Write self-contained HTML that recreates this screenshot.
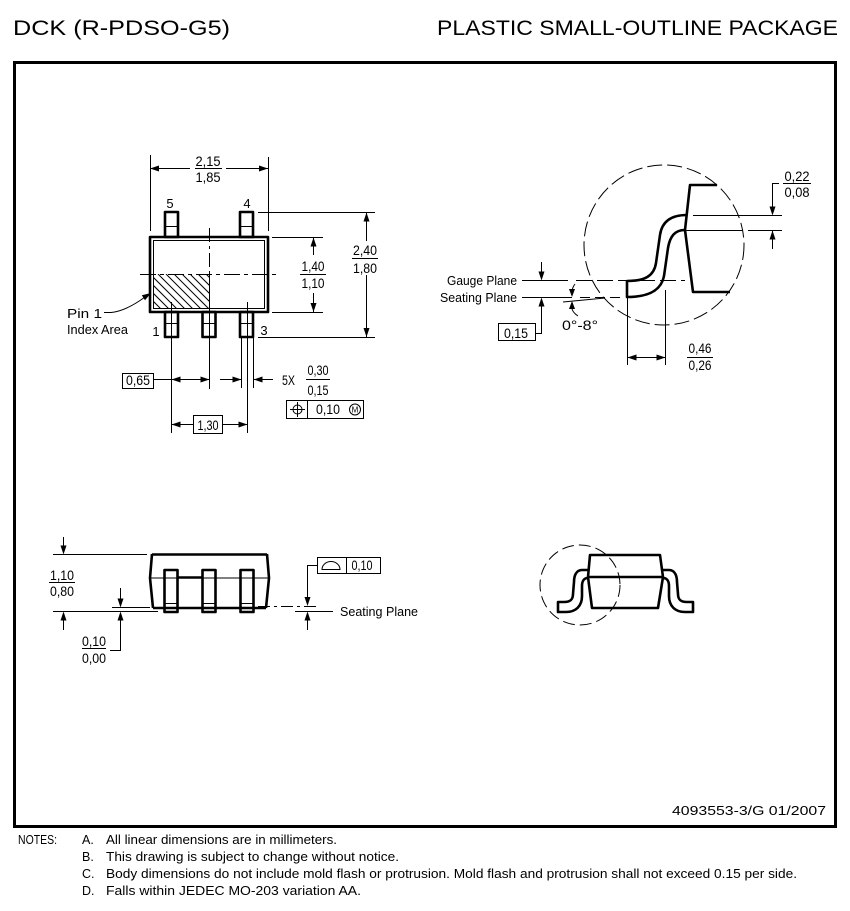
<!DOCTYPE html>
<html><head><meta charset="utf-8"><style>
html,body{margin:0;padding:0;background:#fff;}
svg{display:block;}
text{font-family:"Liberation Sans",sans-serif;fill:#000;}
.n{font-size:14px;}
.l{font-size:13px;}
.th{stroke:#000;stroke-width:1;fill:none;}
.tk{stroke:#000;stroke-width:2.6;fill:none;stroke-linejoin:round;}
.ah{fill:#000;stroke:none;}
</style></head><body>
<svg width="850" height="911" viewBox="0 0 850 911" xmlns="http://www.w3.org/2000/svg">
<defs>
<clipPath id="hc"><rect x="153" y="274" width="56" height="35"/></clipPath>
</defs>
<!-- Header -->
<text x="13" y="35" font-size="21" textLength="217" lengthAdjust="spacingAndGlyphs">DCK (R-PDSO-G5)</text>
<text x="437" y="35" font-size="21" textLength="401" lengthAdjust="spacingAndGlyphs">PLASTIC SMALL-OUTLINE PACKAGE</text>
<!-- Frame -->
<rect x="14.5" y="62.5" width="821" height="764" fill="none" stroke="#000" stroke-width="3"/>

<!-- ===== TOP VIEW ===== -->
<g clip-path="url(#hc)" stroke="#000" stroke-width="1">
<line x1="110" y1="274" x2="145" y2="309"/><line x1="118" y1="274" x2="153" y2="309"/>
<line x1="126" y1="274" x2="161" y2="309"/><line x1="134" y1="274" x2="169" y2="309"/>
<line x1="142" y1="274" x2="177" y2="309"/><line x1="150" y1="274" x2="185" y2="309"/>
<line x1="158" y1="274" x2="193" y2="309"/><line x1="166" y1="274" x2="201" y2="309"/>
<line x1="174" y1="274" x2="209" y2="309"/><line x1="182" y1="274" x2="217" y2="309"/>
<line x1="190" y1="274" x2="225" y2="309"/><line x1="198" y1="274" x2="233" y2="309"/>
<line x1="206" y1="274" x2="241" y2="309"/>
</g>
<rect x="150" y="237" width="118" height="75" class="tk" stroke-width="3"/>
<rect x="153.5" y="240.5" width="111" height="68" class="th"/>
<line x1="209.5" y1="228" x2="209.5" y2="312" class="th" stroke-dasharray="14 4 3 4"/>
<line x1="140" y1="274.5" x2="277" y2="274.5" class="th" stroke-dasharray="16 4 4 4"/>
<line x1="209.5" y1="274" x2="209.5" y2="309" class="th"/>
<rect x="165" y="212" width="13" height="25" class="tk" fill="#fff"/>
<line x1="165" y1="226.5" x2="178" y2="226.5" class="th" stroke-width="1.5"/>
<rect x="240" y="212" width="13" height="25" class="tk" fill="#fff"/>
<line x1="240" y1="226.5" x2="253" y2="226.5" class="th" stroke-width="1.5"/>
<rect x="165" y="312" width="13" height="25" class="tk" fill="#fff"/>
<rect x="202.5" y="312" width="13" height="25" class="tk" fill="#fff"/>
<rect x="240" y="312" width="13" height="25" class="tk" fill="#fff"/>
<line x1="165" y1="323.5" x2="178" y2="323.5" class="th" stroke-width="1.5"/>
<line x1="202.5" y1="323.5" x2="215.5" y2="323.5" class="th" stroke-width="1.5"/>
<line x1="240" y1="323.5" x2="253" y2="323.5" class="th" stroke-width="1.5"/>
<line x1="171.5" y1="302" x2="171.5" y2="433" class="th"/>
<line x1="209.5" y1="312" x2="209.5" y2="389" class="th"/>
<line x1="241.5" y1="337" x2="241.5" y2="388" class="th"/>
<line x1="247.5" y1="302" x2="247.5" y2="433" class="th"/>
<line x1="253.5" y1="337" x2="253.5" y2="388" class="th"/>
<text x="170" y="208" class="l" text-anchor="middle">5</text>
<text x="247" y="208" class="l" text-anchor="middle">4</text>
<text x="156" y="336" class="l" text-anchor="middle">1</text>
<text x="264" y="335" class="l" text-anchor="middle">3</text>
<!-- 2,15 dim -->
<line x1="150.5" y1="155" x2="150.5" y2="231" class="th"/>
<line x1="268.5" y1="157" x2="268.5" y2="231" class="th"/>
<line x1="150" y1="168.5" x2="190" y2="168.5" class="th"/>
<line x1="226" y1="168.5" x2="268" y2="168.5" class="th"/>
<polygon class="ah" points="150,168.5 159,165.5 159,171.5"/>
<polygon class="ah" points="268,168.5 259,165.5 259,171.5"/>
<text x="208" y="166" class="n" text-anchor="middle" textLength="25" lengthAdjust="spacingAndGlyphs">2,15</text>
<line x1="195" y1="168.5" x2="222" y2="168.5" class="th"/>
<text x="208" y="182" class="n" text-anchor="middle" textLength="25" lengthAdjust="spacingAndGlyphs">1,85</text>
<!-- 1,40 dim -->
<line x1="272" y1="237.5" x2="323" y2="237.5" class="th"/>
<line x1="272" y1="312.5" x2="323" y2="312.5" class="th"/>
<line x1="313.5" y1="237" x2="313.5" y2="255" class="th"/>
<line x1="313.5" y1="293" x2="313.5" y2="312" class="th"/>
<polygon class="ah" points="313.5,237.5 310.5,246.5 316.5,246.5"/>
<polygon class="ah" points="313.5,312 310.5,303 316.5,303"/>
<text x="313" y="271" class="n" text-anchor="middle" textLength="23" lengthAdjust="spacingAndGlyphs">1,40</text>
<line x1="300" y1="274.5" x2="326" y2="274.5" class="th"/>
<text x="313" y="288" class="n" text-anchor="middle" textLength="23" lengthAdjust="spacingAndGlyphs">1,10</text>
<!-- 2,40 dim -->
<line x1="258" y1="212.5" x2="375" y2="212.5" class="th"/>
<line x1="258" y1="337.5" x2="375" y2="337.5" class="th"/>
<line x1="366.5" y1="212" x2="366.5" y2="241" class="th"/>
<line x1="366.5" y1="275" x2="366.5" y2="337" class="th"/>
<polygon class="ah" points="366.5,212.5 363.5,221.5 369.5,221.5"/>
<polygon class="ah" points="366.5,337 363.5,328 369.5,328"/>
<text x="365" y="255" class="n" text-anchor="middle" textLength="24" lengthAdjust="spacingAndGlyphs">2,40</text>
<line x1="352" y1="258.5" x2="378" y2="258.5" class="th"/>
<text x="365" y="273" class="n" text-anchor="middle" textLength="24" lengthAdjust="spacingAndGlyphs">1,80</text>
<!-- Pin 1 index -->
<text x="67" y="318" class="l" textLength="35" lengthAdjust="spacingAndGlyphs">Pin 1</text>
<text x="67" y="334" class="l" textLength="61" lengthAdjust="spacingAndGlyphs">Index Area</text>
<path d="M104,312.5 L111,312.5 Q126,311 145,297" class="th"/>
<polygon class="ah" points="151,293 141.8,295.3 145,300.3"/>
<!-- 0,65 -->
<rect x="122.5" y="373.5" width="31" height="15" class="th"/>
<text x="138" y="385" class="n" text-anchor="middle" textLength="24" lengthAdjust="spacingAndGlyphs">0,65</text>
<line x1="153" y1="379.5" x2="209" y2="379.5" class="th"/>
<polygon class="ah" points="171.5,379.5 180.5,376.5 180.5,382.5"/>
<polygon class="ah" points="209.5,379.5 200.5,376.5 200.5,382.5"/>
<line x1="220" y1="379.5" x2="241" y2="379.5" class="th"/>
<polygon class="ah" points="241.5,379.5 232.5,376.5 232.5,382.5"/>
<line x1="253" y1="379.5" x2="273" y2="379.5" class="th"/>
<polygon class="ah" points="253.5,379.5 262.5,376.5 262.5,382.5"/>
<text x="282" y="385" class="n" textLength="13" lengthAdjust="spacingAndGlyphs">5X</text>
<text x="318" y="375" class="n" text-anchor="middle" textLength="21" lengthAdjust="spacingAndGlyphs">0,30</text>
<line x1="306" y1="379.5" x2="330" y2="379.5" class="th"/>
<text x="318" y="395" class="n" text-anchor="middle" textLength="21" lengthAdjust="spacingAndGlyphs">0,15</text>
<!-- position tolerance -->
<rect x="286.5" y="400.5" width="77" height="18" class="th"/>
<line x1="307.5" y1="400.5" x2="307.5" y2="418.5" class="th"/>
<circle cx="297.5" cy="409.5" r="4.5" class="th"/>
<line x1="290" y1="409.5" x2="305" y2="409.5" class="th"/>
<line x1="297.5" y1="402" x2="297.5" y2="417" class="th"/>
<text x="328" y="414" class="n" text-anchor="middle" textLength="24" lengthAdjust="spacingAndGlyphs">0,10</text>
<circle cx="355" cy="409.5" r="5.5" class="th"/>
<text x="355" y="412.5" font-size="8" text-anchor="middle">M</text>
<!-- 1,30 -->
<line x1="171" y1="424.5" x2="193" y2="424.5" class="th"/>
<polygon class="ah" points="171.5,424.5 180.5,421.5 180.5,427.5"/>
<rect x="193.5" y="415.5" width="29" height="18" class="th"/>
<text x="208" y="430" class="n" text-anchor="middle" textLength="21" lengthAdjust="spacingAndGlyphs">1,30</text>
<line x1="222" y1="424.5" x2="247" y2="424.5" class="th"/>
<polygon class="ah" points="247.5,424.5 238.5,421.5 238.5,427.5"/>

<!-- ===== RIGHT TOP DETAIL ===== -->
<circle cx="664" cy="245" r="80" class="th" stroke-dasharray="15 5"/>
<path d="M717,185 L690,185 L685,230 L693,292 L730,292" class="tk"/>
<path d="M687,215 C672,215 662,221 660,235 L656,263 C654,276 645,281 627,281 L627,297 C648,297 661,291 664,276 L668,248 C670,236 675,230 685,230" class="tk"/>
<line x1="685" y1="230.5" x2="743" y2="230.5" class="th" stroke-width="1.5"/>
<line x1="693" y1="215.5" x2="782" y2="215.5" class="th"/>
<line x1="748" y1="230.5" x2="782" y2="230.5" class="th"/>
<path d="M779,183.5 L772.5,183.5 L772.5,212" class="th"/>
<polygon class="ah" points="772.5,215.5 769.5,206.5 775.5,206.5"/>
<line x1="772.5" y1="230" x2="772.5" y2="249" class="th"/>
<polygon class="ah" points="772.5,230.5 769.5,239.5 775.5,239.5"/>
<text x="797" y="181" class="n" text-anchor="middle" textLength="25" lengthAdjust="spacingAndGlyphs">0,22</text>
<line x1="783" y1="183.5" x2="811" y2="183.5" class="th"/>
<text x="797" y="197" class="n" text-anchor="middle" textLength="25" lengthAdjust="spacingAndGlyphs">0,08</text>
<text x="517" y="285" class="l" text-anchor="end" textLength="70" lengthAdjust="spacingAndGlyphs">Gauge Plane</text>
<text x="517" y="302" class="l" text-anchor="end" textLength="77" lengthAdjust="spacingAndGlyphs">Seating Plane</text>
<line x1="522" y1="280.5" x2="568" y2="280.5" class="th"/>
<line x1="576" y1="280.5" x2="685" y2="280.5" class="th" stroke-dasharray="16 5"/>
<line x1="522" y1="297.5" x2="572" y2="297.5" class="th"/>
<line x1="580" y1="297.5" x2="620" y2="297.5" class="th" stroke-dasharray="10 5"/>
<line x1="563" y1="302" x2="605" y2="298" class="th"/>
<line x1="541.5" y1="262" x2="541.5" y2="278" class="th"/>
<polygon class="ah" points="541.5,280.5 538.5,271.5 544.5,271.5"/>
<path d="M541.5,299 L541.5,333.5 L535,333.5" class="th"/>
<polygon class="ah" points="541.5,297.5 538.5,306.5 544.5,306.5"/>
<rect x="498.5" y="323.5" width="37" height="17" class="th"/>
<text x="516" y="338" class="n" text-anchor="middle" textLength="24" lengthAdjust="spacingAndGlyphs">0,15</text>
<path d="M575,284 Q572,288 572,292" class="th"/>
<polygon class="ah" points="572,297 569,289 575,289"/>
<path d="M578,316 Q572,312 572,308" class="th"/>
<polygon class="ah" points="572,301 569,309 575,309"/>
<text x="580" y="330" class="n" text-anchor="middle" textLength="36" lengthAdjust="spacingAndGlyphs">0°-8°</text>
<line x1="627.5" y1="298" x2="627.5" y2="365" class="th"/>
<line x1="665.5" y1="290" x2="665.5" y2="365" class="th"/>
<line x1="627" y1="357.5" x2="665" y2="357.5" class="th"/>
<polygon class="ah" points="627.5,357.5 636.5,354.5 636.5,360.5"/>
<polygon class="ah" points="665.5,357.5 656.5,354.5 656.5,360.5"/>
<text x="700" y="353" class="n" text-anchor="middle" textLength="23" lengthAdjust="spacingAndGlyphs">0,46</text>
<line x1="687" y1="357.5" x2="713" y2="357.5" class="th"/>
<text x="700" y="370" class="n" text-anchor="middle" textLength="23" lengthAdjust="spacingAndGlyphs">0,26</text>

<!-- ===== SIDE VIEW ===== -->
<line x1="152" y1="554.5" x2="267" y2="554.5" class="tk" stroke-width="3"/>
<path d="M152,554 L150,578 L153,608" class="tk"/>
<path d="M267,554 L269,578 L266,608" class="tk"/>
<line x1="150" y1="578" x2="269" y2="578" class="th" stroke-width="1.5"/>
<line x1="177" y1="577.5" x2="202" y2="577.5" class="tk" stroke-width="2.5"/>
<line x1="153" y1="608" x2="266" y2="608" class="tk" stroke-width="2.2"/>
<rect x="164.5" y="570" width="13" height="42" class="tk" fill="#fff"/>
<rect x="202.5" y="570" width="13" height="42" class="tk" fill="#fff"/>
<rect x="240.5" y="570" width="13" height="42" class="tk" fill="#fff"/>
<line x1="164.5" y1="603.5" x2="177.5" y2="603.5" class="th" stroke-width="1.5"/>
<line x1="202.5" y1="603.5" x2="215.5" y2="603.5" class="th" stroke-width="1.5"/>
<line x1="240.5" y1="603.5" x2="253.5" y2="603.5" class="th" stroke-width="1.5"/>
<line x1="53" y1="554.5" x2="147" y2="554.5" class="th"/>
<line x1="53" y1="611.5" x2="158" y2="611.5" class="th"/>
<line x1="63.5" y1="537" x2="63.5" y2="550" class="th"/>
<polygon class="ah" points="63.5,554.5 60.5,545.5 66.5,545.5"/>
<line x1="63.5" y1="615" x2="63.5" y2="630" class="th"/>
<polygon class="ah" points="63.5,611.5 60.5,620.5 66.5,620.5"/>
<text x="62" y="580" class="n" text-anchor="middle" textLength="24" lengthAdjust="spacingAndGlyphs">1,10</text>
<line x1="49" y1="582.5" x2="75" y2="582.5" class="th"/>
<text x="62" y="596" class="n" text-anchor="middle" textLength="24" lengthAdjust="spacingAndGlyphs">0,80</text>
<line x1="112" y1="607.5" x2="150" y2="607.5" class="th"/>
<line x1="120.5" y1="588" x2="120.5" y2="602" class="th"/>
<polygon class="ah" points="120.5,607.5 117.5,598.5 123.5,598.5"/>
<path d="M120.5,615 L120.5,650.5 L110,650.5" class="th"/>
<polygon class="ah" points="120.5,611.5 117.5,620.5 123.5,620.5"/>
<text x="94" y="646" class="n" text-anchor="middle" textLength="24" lengthAdjust="spacingAndGlyphs">0,10</text>
<line x1="82" y1="648.5" x2="106" y2="648.5" class="th"/>
<text x="94" y="663" class="n" text-anchor="middle" textLength="24" lengthAdjust="spacingAndGlyphs">0,00</text>
<line x1="258" y1="606.5" x2="318" y2="606.5" class="th" stroke-dasharray="12 4 3 4"/>
<line x1="295" y1="611.5" x2="333" y2="611.5" class="th"/>
<path d="M317,565.5 L307.5,565.5 L307.5,600" class="th"/>
<polygon class="ah" points="307.5,606 304.5,597 310.5,597"/>
<line x1="307.5" y1="615" x2="307.5" y2="630" class="th"/>
<polygon class="ah" points="307.5,611.5 304.5,620.5 310.5,620.5"/>
<rect x="317.5" y="557.5" width="63" height="16" class="th"/>
<line x1="346.5" y1="557.5" x2="346.5" y2="573.5" class="th"/>
<path d="M322,569.5 A9,8 0 0 1 340,569.5 Z" class="th"/>
<text x="362" y="570" class="n" text-anchor="middle" textLength="21" lengthAdjust="spacingAndGlyphs">0,10</text>
<text x="340" y="616" class="l" textLength="78" lengthAdjust="spacingAndGlyphs">Seating Plane</text>

<!-- ===== SMALL VIEW ===== -->
<circle cx="580" cy="585" r="40" class="th" stroke-dasharray="12 5"/>
<path d="M590,555 L660,555 L663,577 L658,608 L592,608 L588,577 Z" class="tk"/>
<line x1="588" y1="577" x2="663" y2="577" class="tk" stroke-width="2"/>
<path d="M588,570 L582,570 C576,570 574,576 574,582 L573,594 C573,600 570,602 564,602 L558,602 L558,612 L566,612 C576,612 582,606 582,596 L582,586 C582,581 584,578 588,578" class="tk" stroke-width="2.2"/>
<path d="M663,570 L669,570 C675,570 677,576 677,582 L678,594 C678,600 681,602 687,602 L693,602 L693,612 L685,612 C675,612 669,606 669,596 L669,586 C669,581 667,578 663,578" class="tk" stroke-width="2.2"/>

<text x="672" y="815" class="l" textLength="154" lengthAdjust="spacingAndGlyphs">4093553-3/G  01/2007</text>

<!-- Notes -->
<g font-size="12.5">
<text x="18" y="844" textLength="39" lengthAdjust="spacingAndGlyphs">NOTES:</text>
<text x="82" y="844">A.</text>
<text x="106" y="844" textLength="231" lengthAdjust="spacingAndGlyphs">All linear dimensions are in millimeters.</text>
<text x="82" y="861">B.</text>
<text x="106" y="861" textLength="293" lengthAdjust="spacingAndGlyphs">This drawing is subject to change without notice.</text>
<text x="82" y="878">C.</text>
<text x="106" y="878" textLength="691" lengthAdjust="spacingAndGlyphs">Body dimensions do not include mold flash or protrusion. Mold flash and protrusion shall not exceed 0.15 per side.</text>
<text x="82" y="895">D.</text>
<text x="106" y="895" textLength="255" lengthAdjust="spacingAndGlyphs">Falls within JEDEC MO-203 variation AA.</text>
</g>
</svg>
</body></html>
